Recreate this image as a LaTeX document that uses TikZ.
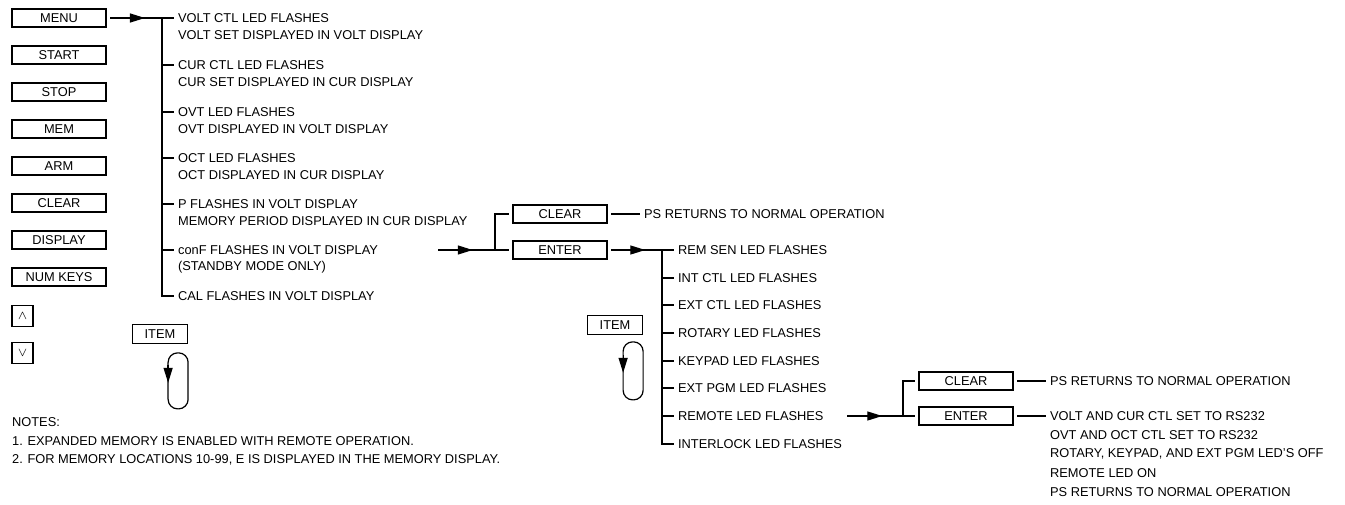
\documentclass[tikz,border=0pt]{standalone}
\usepackage{fontspec}
\setmainfont{Liberation Sans}
\usetikzlibrary{calc,arrows.meta,decorations.markings}

\tikzset{
  key/.style={draw, rectangle, minimum width=1.88cm, minimum height=0.36cm, inner sep=0pt, outer sep=2.5pt},
  smallkey/.style={draw, rectangle, minimum size=0.42cm, inner sep=0pt},
  itemkey/.style={draw, rectangle, minimum width=1.1cm, minimum height=0.37cm, inner sep=0pt},
  txt/.style={anchor=west, inner xsep=2pt, inner ysep=0pt},
  midarrow/.style={decoration={markings, mark=at position #1 with {\arrow{Triangle[length=0.3cm,width=0.18cm]}}}, postaction={decorate}},
  midarrow/.default=0.65,
  downtip/.style={-{Triangle[length=0.3cm,width=0.18cm]}},
}

\begin{document}
\begin{tikzpicture}[x=0.02cm, y=-0.02cm, line width=0.7pt, font=\fontsize{7.3}{8.8}\selectfont]
\useasboundingbox (0,0) rectangle (1345,504);

% front panel keys
\node[key] (menu) at (59,18) {MENU};
\node[key] (start) at (59,55) {START};
\node[key] (stop) at (59,92) {STOP};
\node[key] (mem) at (59,129) {MEM};
\node[key] (arm) at (59,166) {ARM};
\node[key] (clear) at (59,203) {CLEAR};
\node[key] (display) at (59,240) {DISPLAY};
\node[key] (numkeys) at (59,277) {NUM KEYS};
\node[smallkey] (up) at (22.5,316) {$\wedge$};
\node[smallkey] (down) at (22.5,353) {$\vee$};

% menu items
\coordinate (mbus) at (162,18);
\node[txt] (m1) at (174,18) {VOLT CTL LED FLASHES};
\node[txt] (m1b) at (174,35) {VOLT SET DISPLAYED IN VOLT DISPLAY};
\node[txt] (m2) at (174,65) {CUR CTL LED FLASHES};
\node[txt] (m2b) at (174,82) {CUR SET DISPLAYED IN CUR DISPLAY};
\node[txt] (m3) at (174,112) {OVT LED FLASHES};
\node[txt] (m3b) at (174,129) {OVT DISPLAYED IN VOLT DISPLAY};
\node[txt] (m4) at (174,158) {OCT LED FLASHES};
\node[txt] (m4b) at (174,175) {OCT DISPLAYED IN CUR DISPLAY};
\node[txt] (m5) at (174,204) {P FLASHES IN VOLT DISPLAY};
\node[txt] (m5b) at (174,221) {MEMORY PERIOD DISPLAYED IN CUR DISPLAY};
\node[txt] (m6) at (174,250) {conF FLASHES IN VOLT DISPLAY};
\node[txt] (m6b) at (174,267) {(STANDBY MODE ONLY)};
\node[txt] (m7) at (174,296) {CAL FLASHES IN VOLT DISPLAY};

\draw[midarrow=0.67] (menu.east) -- (mbus);
\draw (mbus) -- (m1.west);
\draw (mbus) |- (m7.west);
\foreach \i in {2,...,6} \draw (mbus |- m\i.west) -- (m\i.west);

% conF choice
\coordinate (confout) at (438,250);
\coordinate (j1) at (495,250);
\node[key] (clr1) at (560,214) {CLEAR};
\node[key] (ent1) at (560,250) {ENTER};
\node[txt] (ps1) at (640,214) {PS RETURNS TO NORMAL OPERATION};
\draw[midarrow=0.61] (confout) -- (j1);
\draw (j1) |- (clr1.west);
\draw (j1) -- (ent1.west);
\draw (clr1.east) -- (ps1.west);

% conF items
\coordinate (sbus) at (662,250);
\node[txt] (s1) at (674,250) {REM SEN LED FLASHES};
\node[txt] (s2) at (674,278) {INT CTL LED FLASHES};
\node[txt] (s3) at (674,305) {EXT CTL LED FLASHES};
\node[txt] (s4) at (674,333) {ROTARY LED FLASHES};
\node[txt] (s5) at (674,361) {KEYPAD LED FLASHES};
\node[txt] (s6) at (674,388) {EXT PGM LED FLASHES};
\node[txt] (s7) at (674,416) {REMOTE LED FLASHES};
\node[txt] (s8) at (674,444) {INTERLOCK LED FLASHES};
\draw[midarrow=0.67] (ent1.east) -- (sbus);
\draw (sbus) -- (s1.west);
\draw (sbus) |- (s8.west);
\foreach \i in {2,...,7} \draw (sbus |- s\i.west) -- (s\i.west);

% remote choice
\coordinate (remout) at (847,416);
\coordinate (j2) at (903,416);
\node[key] (clr2) at (966,381) {CLEAR};
\node[key] (ent2) at (966,416) {ENTER};
\node[txt] (ps2) at (1046,381) {PS RETURNS TO NORMAL OPERATION};
\node[txt] (r1) at (1046,416) {VOLT AND CUR CTL SET TO RS232};
\node[txt] (r2) at (1046,435) {OVT AND OCT CTL SET TO RS232};
\node[txt] (r3) at (1046,454) {ROTARY, KEYPAD, AND EXT PGM LED'S OFF};
\node[txt] (r4) at (1046,473) {REMOTE LED ON};
\node[txt] (r5) at (1046,492) {PS RETURNS TO NORMAL OPERATION};
\draw[midarrow=0.63] (remout) -- (j2);
\draw (j2) |- (clr2.west);
\draw (j2) -- (ent2.west);
\draw (clr2.east) -- (ps2.west);
\draw (ent2.east) -- (r1.west);

% item loops
\node[itemkey] (item1) at (160,334) {ITEM};
\draw[rounded corners=0.19cm] ($(item1.south east)+(0,9)$) rectangle ($(item1.south east)+(-20,65)$);
\draw[downtip] ($(item1.south east)+(-20,21)$) -- ($(item1.south east)+(-20,39)$);

\node[itemkey] (item2) at (615,325) {ITEM};
\draw[rounded corners=0.19cm] ($(item2.south east)+(0,7)$) rectangle ($(item2.south east)+(-20,65)$);
\draw[downtip] ($(item2.south east)+(-20,20)$) -- ($(item2.south east)+(-20,38)$);

% notes
\node[txt] (n0) at (8,422) {NOTES:};
\node[txt] (n1) at (8,441) {1. EXPANDED MEMORY IS ENABLED WITH REMOTE OPERATION.};
\node[txt] (n2) at (8,460) {2. FOR MEMORY LOCATIONS 10-99, E IS DISPLAYED IN THE MEMORY DISPLAY.};
\end{tikzpicture}
\end{document}
